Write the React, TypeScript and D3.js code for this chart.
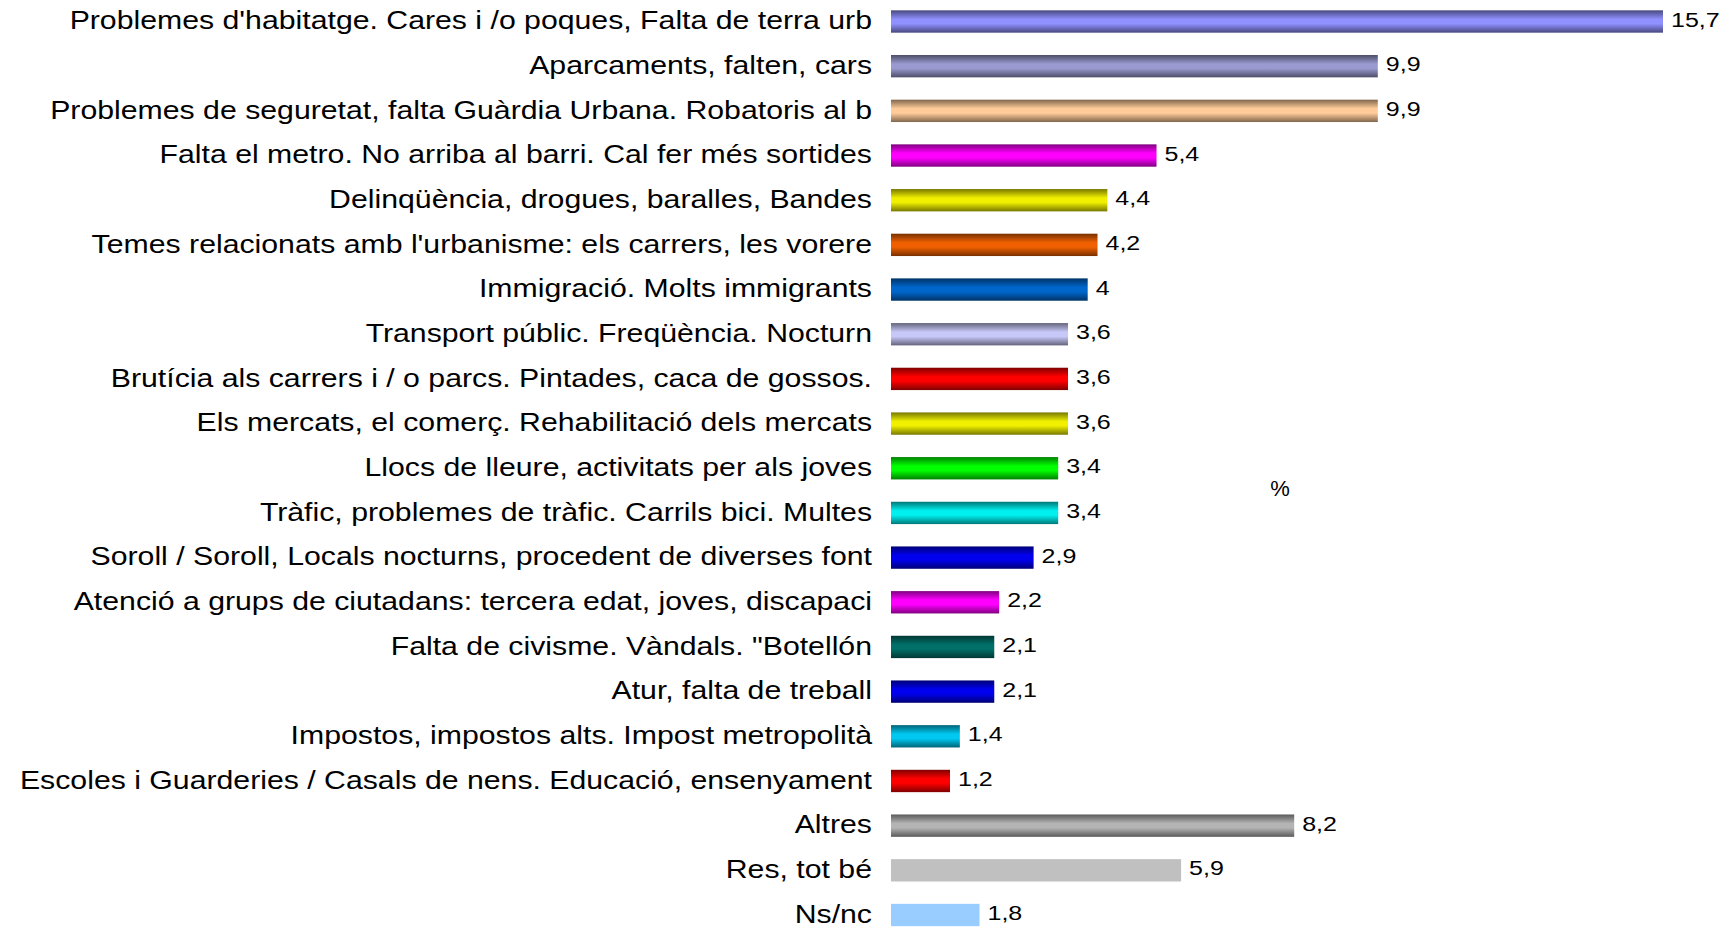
import React from "react";
import * as d3 from "d3";

const categories: string[] = [
  "Problemes d'habitatge. Cares i /o poques, Falta de terra urb",
  "Aparcaments, falten, cars",
  "Problemes de seguretat, falta Guàrdia Urbana. Robatoris al b",
  "Falta el metro. No arriba al barri. Cal fer més sortides",
  "Delinqüència, drogues, baralles, Bandes",
  "Temes relacionats amb l'urbanisme: els carrers, les vorere",
  "Immigració. Molts immigrants",
  "Transport públic. Freqüència. Nocturn",
  "Brutícia als carrers i / o parcs. Pintades, caca de gossos.",
  "Els mercats, el comerç. Rehabilitació dels mercats",
  "Llocs de lleure, activitats per als joves",
  "Tràfic, problemes de tràfic. Carrils bici. Multes",
  "Soroll / Soroll, Locals nocturns, procedent de diverses font",
  "Atenció a grups de ciutadans: tercera edat, joves, discapaci",
  "Falta de civisme. Vàndals. \"Botellón",
  "Atur, falta de treball",
  "Impostos, impostos alts. Impost metropolità",
  "Escoles i Guarderies / Casals de nens. Educació, ensenyament",
  "Altres",
  "Res, tot bé",
  "Ns/nc",
];

const values: number[] = [
  15.7, 9.9, 9.9, 5.4, 4.4, 4.2, 4, 3.6, 3.6, 3.6, 3.4, 3.4, 2.9, 2.2, 2.1,
  2.1, 1.4, 1.2, 8.2, 5.9, 1.8,
];

const valueLabels: string[] = values.map((v) => String(v).replace(".", ","));

const barColors: string[] = [
  "#9090ff", "#9a9ad0", "#ffcc99", "#ff00ff", "#f0f000", "#f06000", "#0066cc",
  "#c8c8f8", "#ff0000", "#f0f000", "#00ff00", "#00f0f0", "#0000ee", "#ff00ff",
  "#007068", "#0000ee", "#00c8f0", "#ff0000", "#b4b4b4", "#c0c0c0", "#99ccff",
];

const flatBars: boolean[] = values.map((_, i) => i >= 19);

const unitLabel = "%";

export default function App() {
  const W = 1728;
  const H = 928;
  const x = d3.scaleLinear().domain([0, 15.7]).range([891, 1663]);
  const y = d3.scalePoint<string>().domain(categories).range([21.5, 915]);
  const step = y.step();
  const barH = step * 0.5;
  const font = "'Liberation Sans', Arial, sans-serif";

  return (
    <svg
      width={W}
      height={H}
      style={{ position: "absolute", left: 0, top: 0, background: "#fff" }}
    >
      <defs>
        {barColors.map((c, i) => {
          const dark = d3.interpolateRgb(c, "#000")(0.5);
          return (
            <linearGradient key={i} id={`g${i}`} x1="0" y1="0" x2="0" y2="1">
              <stop offset="0" stopColor={dark} />
              <stop offset="0.4" stopColor={c} />
              <stop offset="0.6" stopColor={c} />
              <stop offset="1" stopColor={dark} />
            </linearGradient>
          );
        })}
      </defs>
      {categories.map((cat, i) => {
        const cy = y(cat)!;
        return (
          <g key={cat}>
            <rect
              x={x(0)}
              y={cy - barH / 2}
              width={x(values[i]) - x(0)}
              height={barH}
              fill={flatBars[i] ? barColors[i] : `url(#g${i})`}
            />
            <text
              transform={`translate(872,${cy - 1}) scale(1.21,1)`}
              dy="0.35em"
              textAnchor="end"
              fontFamily={font}
              fontSize={25}
              fill="#000"
            >
              {cat}
            </text>
            <text
              transform={`translate(${x(values[i]) + 8},${cy - 2}) scale(1.25,1)`}
              dy="0.35em"
              textAnchor="start"
              fontFamily={font}
              fontSize={20}
              fill="#000"
            >
              {valueLabels[i]}
            </text>
          </g>
        );
      })}
      <text
        x={1280}
        y={488}
        dy="0.35em"
        textAnchor="middle"
        fontFamily={font}
        fontSize={22}
        fill="#000"
      >
        {unitLabel}
      </text>
    </svg>
  );
}
